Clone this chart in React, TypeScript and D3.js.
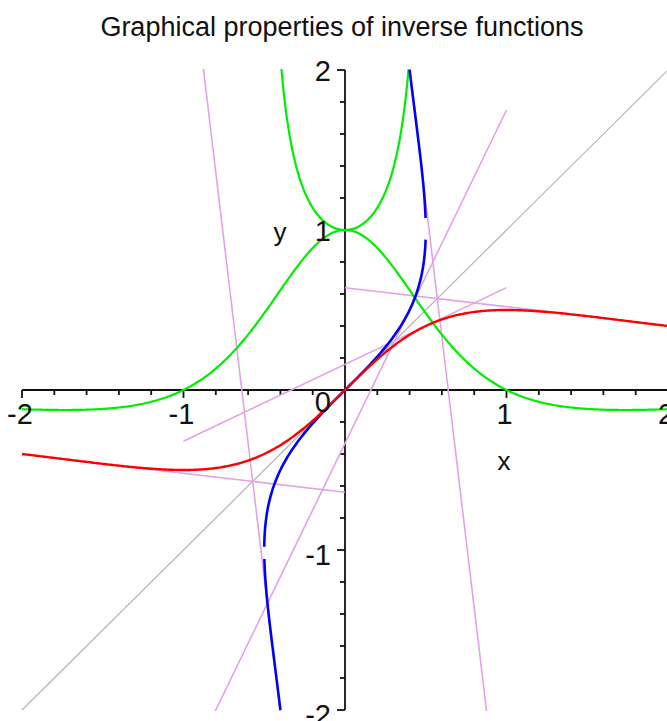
import React from 'react';
import * as d3 from 'd3';

// Plot window
const xDomain: [number, number] = [-2, 2];
const yDomain: [number, number] = [-2, 2];

// Labelled ticks and minor subdivisions
const majorTicks = [-2, -1, 0, 1, 2];
const minorStep = 0.2;

// Points (on the red curve) where tangent lines are drawn, with the x-span of each segment
const tangentAt = [0.5, 1.5, -1.5];
const tangentFrom = [-1, 0, -1.5];
const tangentTo = [1, 1.5, 0];

// Parameter ranges of the pieces of the inverse (blue) curve
const inverseFrom = [-2, -0.98, 1.075];
const inverseTo = [-1.056, 0.94, 2];

const title = 'Graphical properties of inverse functions';

const f = (x: number) => x / (1 + x * x);
const df = (x: number) => (1 - x * x) / ((1 + x * x) * (1 + x * x));

const W = 667;
const H = 721;

const sample = (a: number, b: number, n = 400) => d3.range(n + 1).map((i) => a + ((b - a) * i) / n);

export default function App() {
  const x = d3.scaleLinear().domain(xDomain).range([22, 668]);
  const y = d3.scaleLinear().domain(yDomain).range([710, 70]);
  const line = d3
    .line<[number, number]>()
    .x((d) => x(d[0]))
    .y((d) => y(d[1]));

  const red = line(sample(xDomain[0], xDomain[1]).map((t) => [t, f(t)]));
  const greenLow = line(sample(xDomain[0], xDomain[1]).map((t) => [t, df(t)]));
  const greenHigh = line(sample(-0.75, 0.75).map((t) => [f(t), 1 / df(t)]));
  const blue = inverseFrom.map((a, i) => line(sample(a, inverseTo[i]).map((t) => [f(t), t])));

  const tangents: string[] = [];
  tangentAt.forEach((a, i) => {
    const x0 = tangentFrom[i];
    const x1 = tangentTo[i];
    const m = df(a);
    const redT = (xx: number) => f(a) + m * (xx - a);
    const blueT = (xx: number) => a + (xx - f(a)) / m;
    tangents.push(line([[x0, redT(x0)], [x1, redT(x1)]]) as string);
    tangents.push(line([[x0, blueT(x0)], [x1, blueT(x1)]]) as string);
  });

  const minor = d3.range(xDomain[0], xDomain[1] + 1e-9, minorStep).map((v) => Math.round(v * 10) / 10);
  const x0 = x(0);
  const y0 = y(0);
  const font = "'Liberation Sans', Arial, sans-serif";

  return (
    <svg
      width={W}
      height={H}
      style={{ position: 'absolute', left: 0, top: 0, background: '#fff' }}
      fontFamily={font}
    >
      <defs>
        <clipPath id="plotArea">
          <rect x={x(-2) - 1} y={y(2) - 1} width={x(2) - x(-2) + 2} height={y(-2) - y(2) + 2} />
        </clipPath>
      </defs>

      <text x={342} y={36} textAnchor="middle" fontSize={27} fill="#111">
        {title}
      </text>

      {/* axes */}
      <g stroke="#111" strokeWidth={1.8} fill="none">
        <line x1={x(-2)} x2={x(2)} y1={y0} y2={y0} />
        <line x1={x0} x2={x0} y1={y(2)} y2={y(-2)} />
        {minor.map((v) => {
          const major = majorTicks.includes(v);
          const len = major ? 8 : 5;
          return (
            <g key={v}>
              {v !== 0 && <line x1={x(v)} x2={x(v)} y1={y0} y2={y0 + len} />}
              {v !== 0 && <line x1={x0 - len} x2={x0} y1={y(v)} y2={y(v)} />}
            </g>
          );
        })}
      </g>

      <g clipPath="url(#plotArea)" fill="none" strokeLinejoin="round">
        <line x1={x(-2)} y1={y(-2)} x2={x(2)} y2={y(2)} stroke="#b4b4b4" strokeWidth={1.2} />
        {tangents.map((d, i) => (
          <path key={i} d={d} stroke="#e2a3e6" strokeWidth={1.6} />
        ))}
        <path d={greenLow as string} stroke="#00ee00" strokeWidth={2.2} />
        <path d={greenHigh as string} stroke="#00ee00" strokeWidth={2.2} />
        {blue.map((d, i) => (
          <path key={i} d={d as string} stroke="#0000ff" strokeWidth={2.6} />
        ))}
        <path d={red as string} stroke="#ff0000" strokeWidth={2.4} />
      </g>

      {/* tick labels */}
      <g fontSize={29} fill="#111">
        {majorTicks
          .filter((v) => v !== 0)
          .map((v) => (
            <text key={'x' + v} x={x(v) - 2} y={y0 + 34} textAnchor="middle">
              {String(v)}
            </text>
          ))}
        {majorTicks.map((v) => (
          <text
            key={'y' + v}
            x={x0 - 14}
            y={y(v) + (v === 0 ? 22 : v < 0 ? 15 : 11)}
            textAnchor="end"
          >
            {String(v)}
          </text>
        ))}
      </g>

      <text x={504} y={470} textAnchor="middle" fontSize={26} fill="#111">
        x
      </text>
      <text x={280} y={241} textAnchor="middle" fontSize={26} fill="#111">
        y
      </text>
    </svg>
  );
}
